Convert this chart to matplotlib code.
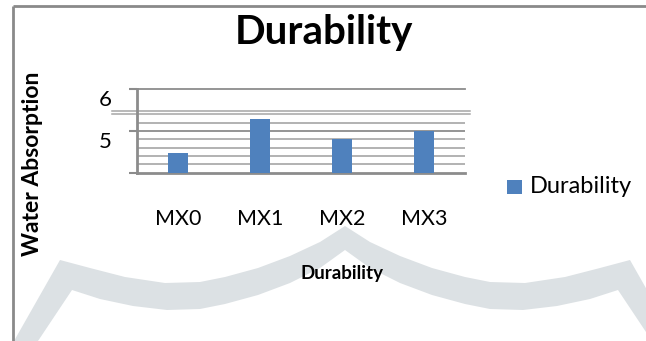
import numpy as np
import matplotlib
matplotlib.use("Agg")
import matplotlib.pyplot as plt
from matplotlib.patches import Polygon, Rectangle
from matplotlib.lines import Line2D
from matplotlib.transforms import Bbox, ScaledTranslation

# ---- data ----
categories = ["MX0", "MX1", "MX2", "MX3"]
water_absorption = [4.74, 5.15, 4.90, 5.00]
series_name = "Durability"
y_tick_values = [5, 6]
y_tick_labels = ["5", "6"]

# ---- figure ----
W, H, DPI = 646, 341, 100
plt.rcParams['font.family'] = ['Lato', 'DejaVu Sans']
fig = plt.figure(figsize=(W / DPI, H / DPI), dpi=DPI)
fig.patch.set_facecolor('white')

def fx(x):
    return x / W

def fy(y):
    return 1 - y / H

# light grey decorative band in the lower half
left_top = [(60, 260), (90, 268), (125, 277), (165, 283), (200, 282), (225, 277),
            (258, 268), (290, 256), (320, 242), (345, 226)]
left_bot = [(72, 290), (100, 299), (133, 306), (167, 310), (200, 309), (225, 304),
            (258, 295), (290, 283), (320, 268), (345, 250)]
cx = 690
right_top = [(cx - x, y) for x, y in reversed(left_top)][1:]
right_bot = [(cx - x, y) for x, y in reversed(left_bot)][1:]
outline = ([(14, 341)] + left_top + right_top + [(676, 341), (652, 341)]
           + list(reversed(right_bot)) + [(345, 250)] + list(reversed(left_bot)) + [(38, 341)])
band = Polygon([(fx(x), fy(y)) for x, y in outline], closed=True,
               transform=fig.transFigure, facecolor='#dce1e4', edgecolor='none', zorder=0)
fig.add_artist(band)

# outer frame (top and left edges)
frame_c = '#8a8a8a'
fig.add_artist(Line2D([fx(13), 1], [fy(6), fy(6)], transform=fig.transFigure,
                      color=frame_c, lw=2.0, solid_capstyle='butt'))
fig.add_artist(Line2D([fx(13), fx(13)], [fy(6), 0], transform=fig.transFigure,
                      color=frame_c, lw=2.0, solid_capstyle='butt'))

# ---- axes with a compressed upper band ----
y_bottom, y_break, K = 4.5, 5.2, 0.378

def fwd(v):
    v = np.asarray(v, dtype=float)
    return np.where(v <= y_break, v, y_break + (v - y_break) * K)

def inv(u):
    u = np.asarray(u, dtype=float)
    return np.where(u <= y_break, u, y_break + (u - y_break) / K)

ax = fig.add_axes([fx(137), fy(172.5), fx(465) - fx(137), fy(89.3) - fy(172.5)])
ax.set_yscale('function', functions=(fwd, inv))
ax.set_ylim(y_bottom, 6)
ax.set_xlim(-0.5, len(categories) - 0.5)
ax.patch.set_visible(False)

x = np.arange(len(categories))
ax.bar(x, np.array(water_absorption) - y_bottom, bottom=y_bottom, width=0.244,
       color='#4f81bd', zorder=3)

grid_c = '#a6a6a6'
major_c = '#8c8c8c'
for v in np.round(np.arange(4.6, 5.15, 0.1), 2):
    if abs(v - 5) > 1e-9:
        ax.axhline(v, color=grid_c, lw=1.2, zorder=1)
ax.axhline(5, color=major_c, lw=1.3, zorder=1)
ax.axhline(6, color=major_c, lw=1.3, zorder=1, clip_on=False)
# double line marking the axis break
yx = ax.get_yaxis_transform()
for v in [y_break, y_break + 0.037 / K]:
    ax.plot([-0.077, 1.015], [v, v], transform=yx, color=grid_c, lw=1.1,
            clip_on=False, zorder=1)

for s in ['top', 'right']:
    ax.spines[s].set_visible(False)
for s in ['left', 'bottom']:
    ax.spines[s].set_color(major_c)
    ax.spines[s].set_linewidth(2.0)

ax.set_yticks([y_bottom] + y_tick_values)
ax.set_yticklabels([])
ax.yaxis.set_minor_locator(matplotlib.ticker.NullLocator())
ax.tick_params(axis='y', length=5.8, width=1.5, color=major_c, direction='out')

off = ScaledTranslation(0, -11 / DPI, fig.dpi_scale_trans)
for v, lab in zip(y_tick_values, y_tick_labels):
    ax.text(-0.076, v, lab, transform=yx + off, ha='right', va='center',
            fontsize=16, color='black')

ax.set_xticks(x)
ax.set_xticklabels(categories, fontsize=15.5)
ax.tick_params(axis='x', length=0, pad=26)

# titles and axis labels
fig.text(fx(324), fy(44), "Durability", ha='center', va='baseline',
         fontsize=29, fontweight='bold')
fig.text(fx(33), fy(164), "Water Absorption", ha='center', va='center',
         rotation=90, fontsize=16.5, fontweight='bold')
xl = fig.text(fx(342), fy(274), "Durability", ha='center', va='center',
              fontsize=13.5, fontweight='bold')
xl.set_clip_box(Bbox.from_extents(0, H - 282, W, H))
xl.set_clip_on(True)

# legend
fig.add_artist(Rectangle((fx(507), fy(194)), fx(522) - fx(507), fy(180) - fy(194),
                         transform=fig.transFigure, facecolor='#4f81bd', edgecolor='none'))
fig.text(fx(530), fy(187), series_name, ha='left', va='center', fontsize=17)

fig.savefig("out.png", dpi=DPI)
